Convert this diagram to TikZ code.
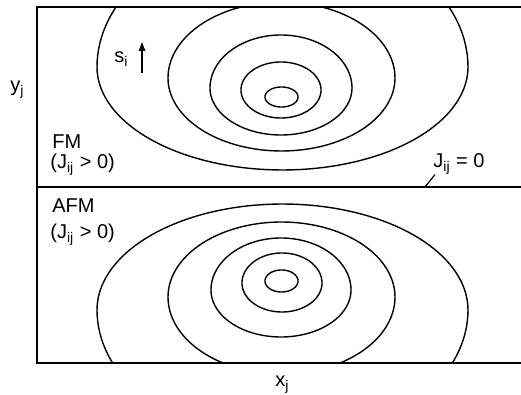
\documentclass[tikz,border=0pt]{standalone}
\usepackage{fontspec}
\setmainfont{Liberation Sans}
\usetikzlibrary{arrows.meta}
\tikzset{
	frameline/.style={line width=0.8pt, black},
	isoline/.style  ={line width=0.7pt, black},
	lbl/.style      ={inner sep=0pt, anchor=base west, font=\fontsize{10}{12}\selectfont},
	spinarrow/.style={-{Triangle[length=4.5pt, width=3.2pt]}, line width=0.6pt},
}
% one closed contour: centre, x radius, upper and lower y radius
\newcommand{\isoring}[5]{%
	\draw[isoline] plot[variable=\t, domain=0:180, samples=73] ({#1+#3*cos(\t)},{#2+#5*sin(\t)})
		-- plot[variable=\t, domain=180:360, samples=73] ({#1+#3*cos(\t)},{#2+#4*sin(\t)}) -- cycle;}

\begin{document}
\begin{tikzpicture}[x=0.5pt, y=-0.5pt]
	\useasboundingbox (0,0) rectangle (521,395);
	% frame of the two panels
	\draw[frameline] (521,7) -- (37,7) -- (37,363) -- (521,363);
	\draw[frameline] (37,187) -- (521,187);
	% FM panel
	\begin{scope}
		\clip (37,7) rectangle (521,187);
		\foreach \cx/\cy/\rx/\ryt/\ryb in {281.5/97/16.5/10/10, 281/90/40/28/28, 281/88/71/53/47,
			281.5/78/113.5/76/73, 282.5/67/185.5/136/103}
			\isoring{\cx}{\cy}{\rx}{\ryt}{\ryb};
	\end{scope}
	% AFM panel
	\begin{scope}
		\clip (37,187) rectangle (521,363);
		\foreach \cx/\cy/\rx/\ryt/\ryb in {281.5/281/16.5/11/11, 282/283/40/30/29, 281/290/70/52/47,
			281.5/297/113.5/75/77, 282.5/310/185.5/106/132}
			\isoring{\cx}{\cy}{\rx}{\ryt}{\ryb};
	\end{scope}
	% labels
	\node[lbl] (ylab) at (10,92) {y\textsubscript{j}};
	\node[lbl] (xlab) at (275,387) {x\textsubscript{j}};
	\node[lbl] (spin) at (114,63) {s\textsubscript{i}};
	\coordinate (spintail) at (142,73);
	\coordinate (spintip) at (142,42);
	\draw[spinarrow] (spintail) -- (spintip);
	\node[lbl] (fmlab) at (52,149) {FM};
	\node[lbl] (fmcond) at (50,169) {(J\textsubscript{ij} > 0)};
	\node[lbl] (afmlab) at (52,213) {AFM};
	\node[lbl] (afmcond) at (50,239) {(J\textsubscript{ij} > 0)};
	\node[lbl] (zerolab) at (433,168) {J\textsubscript{ij} = 0};
	\coordinate (zerofoot) at (425,187);
	\draw[line width=0.6pt] ([xshift=1pt]zerolab.south west) -- (zerofoot);
\end{tikzpicture}
\end{document}
